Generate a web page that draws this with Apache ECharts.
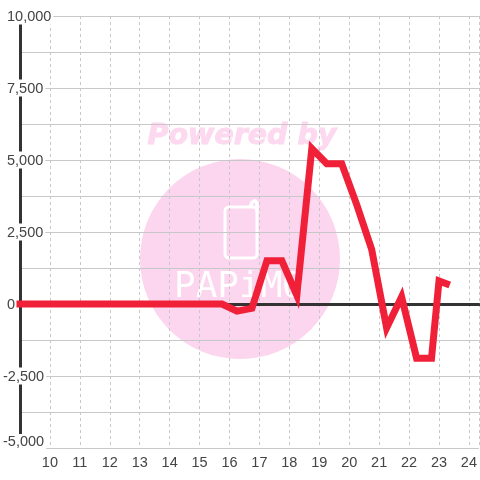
<!DOCTYPE html>
<html><head><meta charset="utf-8">
<style>html,body{margin:0;padding:0;background:#fff}#c{width:480px;height:480px}</style>
<script src="https://cdn.jsdelivr.net/npm/echarts@6/dist/echarts.min.js"></script>
</head><body><div id="c"></div>
<script>
const hours=[9,9.25,9.75,10.25,10.75,11.25,11.75,12.25,12.75,13.25,13.75,14.25,14.75,15.25,15.75,16.25,16.75,17.25,17.75,18.25,18.75,19.25,19.75,20.25,20.75,21.25,21.75,22.25,22.75,23,23.25];
const values=[0,0,0,0,0,0,0,0,0,0,0,0,0,0,0,-250,-150,1500,1500,300,5400,4870,4870,3450,1900,-830,250,-1880,-1880,800,700];
const watermarkTitle='Powered by';
const watermarkBrand='PAPiMO';
const chart=echarts.init(document.getElementById('c'),null,{renderer:'canvas'});
const pink='#fcd5ee';
const labelBase={color:'#444',fontFamily:'Liberation Sans',fontSize:14.5,backgroundColor:'#fff',lineHeight:14};
chart.setOption({
 animation:false,
 backgroundColor:'#fff',
 grid:{left:20,right:0,top:16,bottom:32},
 graphic:[
  {type:'circle',z:-1,shape:{cx:240,cy:259,r:100},style:{fill:pink}},
  {type:'text',z:-1,x:242,y:137,style:{text:watermarkTitle,fill:'#fdd9f0',stroke:'#fdd9f0',lineWidth:1,font:'italic bold 28.5px "DejaVu Sans"',align:'center',verticalAlign:'middle'}},
  {type:'rect',z:-1,shape:{x:225,y:207,width:32,height:51,r:4},style:{fill:'none',stroke:'#fff',lineWidth:3}},
  {type:'polyline',z:-1,shape:{points:[[250,207],[252,202.5],[255,201],[257,203],[257,212]]},style:{fill:'none',stroke:'#fff',lineWidth:3.5}},
  {type:'text',z:-1,x:239,y:288,style:{text:watermarkBrand,fill:'#fff',font:'36px "DejaVu Sans Mono"',align:'center',verticalAlign:'middle'}}
 ],
 xAxis:[
  {type:'value',min:9,max:24+1/3,interval:1,position:'bottom',
   axisLine:{show:false,onZero:false},axisTick:{show:false},
   axisLabel:{color:'#444',fontFamily:'Liberation Sans',fontSize:14.5,margin:7,showMaxLabel:false,
     formatter:v=>(v>9&&Number.isInteger(v))?String(v):''},
   splitLine:{show:true,lineStyle:{color:'#c8c8c8',type:[3,3],width:1}}},
  {type:'value',min:9,max:24+1/3,interval:1,position:'bottom',
   axisLine:{show:true,onZero:true,lineStyle:{color:'#333',width:3}},axisTick:{show:false},
   axisLabel:{show:false},splitLine:{show:false}}
 ],
 yAxis:{type:'value',min:-5000,max:10000,interval:2500,
   axisLine:{show:true,onZero:false,lineStyle:{color:'#333',width:3}},axisTick:{show:false},
   axisLabel:{color:'#444',align:'left',margin:17,fontFamily:'Liberation Sans',fontSize:14.5,
     formatter:v=>{const s=v.toLocaleString('en-US');return v===-5000?'{m|'+s+'}':v<0?'{n|'+s+'}':'{p|'+s+'}';},
     rich:{m:{...labelBase,padding:[0,2,13,0]},
           n:{...labelBase,padding:[2,2,0,0]},
           p:{...labelBase,padding:[2,2,0,4]}}},
   splitLine:{show:true,lineStyle:{color:'#c8c8c8',width:1}},
   minorTick:{show:false,splitNumber:2},
   minorSplitLine:{show:true,lineStyle:{color:'#c8c8c8',width:1}}},
 series:[{type:'line',xAxisIndex:0,data:hours.map((h,i)=>[h,values[i]]),showSymbol:false,symbol:'none',clip:false,z:5,
   lineStyle:{color:'#f02038',width:7,cap:'square',join:'miter',miterLimit:10}}]
});
</script></body></html>
